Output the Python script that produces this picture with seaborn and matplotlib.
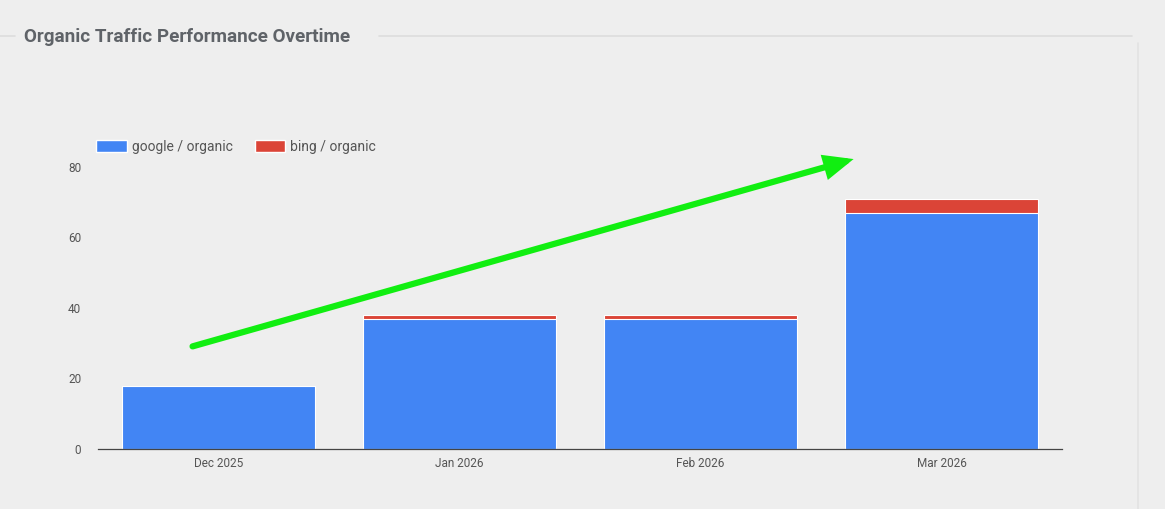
import matplotlib
matplotlib.use("Agg")
import matplotlib.pyplot as plt
from matplotlib.patches import Patch, FancyArrowPatch
import pandas as pd
import seaborn as sns

months = ["Dec 2025", "Jan 2026", "Feb 2026", "Mar 2026"]
google_organic = [18, 37, 37, 67]
bing_organic = [0, 1, 1, 4]
y_ticks = [0, 20, 40, 60, 80]

BLUE = "#4285f4"
RED = "#db4437"
BG = "#eeeeee"
TEXT = "#5f6368"

df = pd.DataFrame({"month": months, "google": google_organic, "bing": bing_organic})
df["total"] = df["google"] + df["bing"]

sns.set_theme(style="white")
plt.rcParams["font.family"] = ["Roboto", "DejaVu Sans"]

fig = plt.figure(figsize=(11.65, 5.09), dpi=100, facecolor=BG)
ax = fig.add_axes([0.0841, 0.1179, 0.8275, 0.554])
ax.set_facecolor(BG)

# stacked: total in red first, google drawn over it
sns.barplot(data=df, x="month", y="total", color=RED, width=0.8, saturation=1,
            edgecolor="white", linewidth=0.8, ax=ax)
sns.barplot(data=df, x="month", y="google", color=BLUE, width=0.8, saturation=1,
            edgecolor="white", linewidth=0.8, ax=ax)

ax.set_xlim(-0.5, 3.5)
ax.set_ylim(0, 80)
ax.set_yticks(y_ticks)
ax.set_xlabel("")
ax.set_ylabel("")
ax.tick_params(axis="both", length=0, labelsize=8.5, labelcolor="#555555")
ax.tick_params(axis="x", pad=6)
ax.tick_params(axis="y", pad=12)
for side in ["top", "right", "left"]:
    ax.spines[side].set_visible(False)
ax.spines["bottom"].set_color("#444444")
ax.spines["bottom"].set_linewidth(0.9)

handles = [Patch(facecolor=BLUE, label="google / organic"),
           Patch(facecolor=RED, label="bing / organic")]
fig.legend(handles=handles, loc="center left", bbox_to_anchor=(0.072, 0.712),
           ncol=2, frameon=False, fontsize=10, handlelength=2.2, handleheight=1.05,
           handletextpad=0.35, columnspacing=1.6, labelcolor="#555555")

# card outline
fig.add_artist(plt.Line2D([0.0, 0.013], [0.93, 0.93], color="#dcdcdc", lw=1.2))
fig.add_artist(plt.Line2D([0.325, 0.972], [0.93, 0.93], color="#dcdcdc", lw=1.2))
fig.add_artist(plt.Line2D([0.977, 0.977], [0.0, 0.915], color="#e2e2e2", lw=1.2))

fig.text(0.0206, 0.927, "Organic Traffic Performance Overtime", fontsize=13.6,
         fontweight="bold", color=TEXT, va="center", ha="left")

# green trend arrow
fig.add_artist(FancyArrowPatch(
    (0.163, 0.318), (0.735, 0.689), transform=fig.transFigure,
    arrowstyle="-|>,head_length=14,head_width=6", color="#11ee11",
    lw=4.5, mutation_scale=1, capstyle="round", joinstyle="miter"))

fig.savefig("out.png", dpi=100, facecolor=BG)
